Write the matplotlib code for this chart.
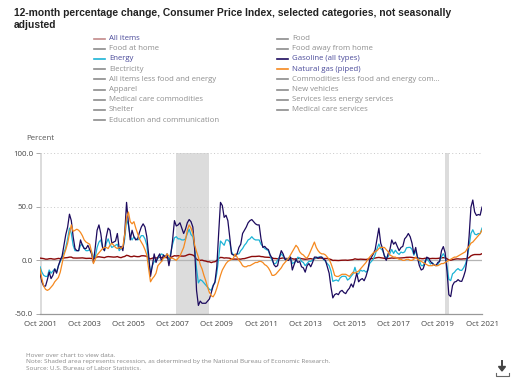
import matplotlib
matplotlib.use("Agg")
import matplotlib.pyplot as plt
from matplotlib.lines import Line2D
from matplotlib.patches import Polygon
import numpy as np

# ---------------- data (monthly, Oct 2001 .. Oct 2021) ----------------
all_items = [
    2.1, 1.9, 1.6,
    1.1, 1.1, 1.5, 1.6, 1.2, 1.1, 1.5, 1.8, 1.5, 2.0, 2.2, 2.4,
    2.6, 3.0, 3.0, 2.2, 2.1, 2.1, 2.1, 2.2, 2.3, 2.0, 1.8, 1.9,
    1.9, 1.7, 1.7, 2.3, 3.1, 3.3, 3.0, 2.7, 2.5, 3.2, 3.5, 3.3,
    3.0, 3.0, 3.1, 3.5, 2.8, 2.5, 3.2, 3.6, 4.7, 4.3, 3.5, 3.4,
    4.0, 3.6, 3.4, 3.5, 4.2, 4.3, 4.1, 3.8, 2.1, 1.3, 2.0, 2.5,
    2.1, 2.4, 2.8, 2.6, 2.7, 2.7, 2.4, 2.0, 2.8, 3.5, 4.3, 4.1,
    4.3, 4.0, 4.0, 3.9, 4.2, 5.0, 5.6, 5.4, 4.9, 3.7, 1.1, 0.1,
    0.0, 0.2, -0.4, -0.7, -1.3, -1.4, -2.1, -1.5, -1.3, -0.2, 1.8, 2.7,
    2.6, 2.1, 2.3, 2.2, 2.0, 1.1, 1.2, 1.1, 1.1, 1.2, 1.1, 1.5,
    1.6, 2.1, 2.7, 3.2, 3.6, 3.6, 3.6, 3.8, 3.9, 3.5, 3.4, 3.0,
    2.9, 2.9, 2.7, 2.3, 1.7, 1.7, 1.4, 1.7, 2.0, 2.2, 1.8, 1.7,
    1.6, 2.0, 1.5, 1.1, 1.4, 1.8, 2.0, 1.5, 1.2, 1.0, 1.2, 1.5,
    1.6, 1.1, 1.5, 2.0, 2.1, 2.1, 2.0, 1.7, 1.7, 1.7, 1.3, 0.8,
    -0.1, 0.0, -0.1, -0.2, 0.0, 0.1, 0.2, 0.2, 0.0, 0.2, 0.5, 0.7,
    1.4, 1.0, 0.9, 1.1, 1.0, 1.0, 0.8, 1.1, 1.5, 1.6, 1.7, 2.1,
    2.5, 2.7, 2.4, 2.2, 1.9, 1.6, 1.7, 1.9, 2.2, 2.0, 2.2, 2.1,
    2.1, 2.2, 2.4, 2.5, 2.8, 2.9, 2.9, 2.7, 2.3, 2.5, 2.2, 1.9,
    1.6, 1.5, 1.9, 2.0, 1.8, 1.6, 1.8, 1.7, 1.7, 1.8, 2.1, 2.3,
    2.5, 2.3, 1.5, 0.3, 0.1, 0.6, 1.0, 1.3, 1.4, 1.2, 1.2, 1.4,
    1.4, 1.7, 2.6, 4.2, 5.0, 5.4, 5.4, 5.3, 5.4, 6.2,
]

energy = [
    -6, -11, -14,
    -15, -15, -9, -12, -10, -8, -11, -5, -1, 3, 7, 12,
    20, 30, 25, 14, 9, 9, 9, 14, 15, 11, 9, 9,
    10, 8, 3, 3, 12, 17, 19, 12, 9, 16, 20, 15,
    12, 13, 14, 15, 9, 11, 11, 20, 38, 33, 22, 19,
    22, 20, 19, 20, 23, 23, 20, 14, -1, -11, -5, -1,
    0, 2, 4, 6, 5, 3, 5, 0, 7, 15, 21, 22,
    20, 20, 19, 19, 20, 25, 29, 24, 22, 12, -8, -21,
    -18, -19, -21, -23, -25, -27, -28, -23, -21, -12, 2, 18,
    16, 14, 19, 19, 17, 8, 5, 5, 6, 6, 9, 11,
    14, 16, 19, 20, 22, 20, 19, 19, 19, 15, 13, 11,
    10, 9, 4, 0, -3, -3, 0, 3, 6, 4, 1, 1,
    2, 3, -3, -2, -1, 3, 2, -1, -2, -5, -3, -1,
    -1, 0, 2, 2, 3, 3, 3, 1, -1, -3, -5, -10,
    -19.6, -18.8, -18.3, -19.4, -16.3, -15.0, -14.8, -15.0, -18.4, -17.1, -14.7, -12.6,
    -6.5, -12.5, -12.6, -8.9, -10.1, -9.4, -11.0, -9.2, -2.9, -0.9, 1.1, 5.4,
    10.8, 15.2, 10.9, 9.3, 4.5, 2.3, 3.4, 6.4, 10.1, 6.4, 9.4, 6.9,
    5.5, 7.7, 7.0, 7.9, 11.7, 12.0, 12.1, 10.2, 4.8, 8.9, 3.1, -0.3,
    -4.9, -5.0, -0.4, 1.7, -0.6, -3.4, -2.0, -4.4, -4.8, -4.2, -0.6, 3.4,
    6.2, 2.8, -5.7, -17.7, -18.9, -12.6, -11.2, -9.0, -7.7, -9.2, -9.4, -7.0,
    -3.6, 2.4, 13.2, 25.1, 28.5, 24.5, 23.8, 25.0, 24.8, 30.0,
]

gasoline = [
    -12, -20, -24,
    -24, -18, -11, -17, -14, -8, -12, -5, 0, 4, 14, 24,
    31, 43, 37, 22, 11, 9, 9, 19, 14, 11, 11, 14,
    10, 6, -2, 12, 28, 33, 25, 12, 9, 22, 30, 28,
    16, 17, 18, 25, 11, 13, 9, 25, 54, 35, 19, 28,
    22, 19, 20, 26, 31, 34, 31, 22, 5, -15, -5, 6,
    -2, 3, 6, -1, 5, 3, 6, -5, 5, 19, 37, 32,
    33, 35, 30, 25, 29, 35, 38, 36, 31, 10, -28, -42,
    -38, -40, -40, -40, -38, -36, -30, -24, -20, -6, 25, 54,
    51, 40, 42, 37, 22, 6, 5, 4, 6, 12, 15, 25,
    28, 31, 35, 37, 38, 36, 34, 33, 33, 20, 12, 13,
    11, 10, 5, 2, -4, -6, -5, 3, 9, 6, 1, 0,
    0, 3, -9, -4, 1, -2, -1, -6, -7, -11, -5, -3,
    -6, -2, 3, 3, 2, 3, 3, 1, 0, -6, -12, -25,
    -35, -32, -31, -32, -29, -28, -30, -31, -28, -26, -22, -25,
    -19, -12, -20, -18, -17, -19, -15, -9, 0, 3, 6, 10,
    20, 30, 16, 11, 4, 0, 6, 10, 19, 15, 17, 13,
    9, 12, 13, 20, 22, 25, 22, 16, 6, 12, 2, -5,
    -9, -8, -3, 3, 2, -1, -3, -4, -5, -2, -1, 9,
    12.8, 7.0, -10.2, -32.0, -33.8, -23.4, -20.3, -19.7, -18.0, -19.4, -19.6, -15.2,
    -9.5, 2.5, 22.5, 49.6, 56.2, 45.1, 41.8, 42.7, 42.1, 49.6,
]

natural_gas = [
    -8, -17, -24,
    -27, -28, -27, -25, -23, -20, -18, -16, -11, -3, 5, 10,
    16, 25, 33, 27, 28, 29, 28, 26, 23, 19, 17, 16,
    15, 8, -3, 1, 5, 7, 9, 11, 12, 12, 11, 14,
    16, 14, 12, 11, 12, 11, 13, 24, 40, 45, 36, 34,
    36, 30, 25, 20, 17, 14, 10, 5, -8, -20, -17, -15,
    -12, -5, -3, -1, 2, 3, 6, 4, 2, 2, 1, 0,
    2, 4, 8, 12, 19, 28, 33, 30, 25, 14, 8, 3,
    -4, -8, -14, -19, -25, -30, -33, -34, -31, -26, -20, -14,
    -9, -6, -3, -1, 0, 1, 2, 6, 3, 0, -2, -5,
    -6, -6, -5, -5, -4, -3, -2, -2, -1, -1, -2, -4,
    -5, -7, -10, -14, -14, -13, -11, -9, -7, -4, -2, 0,
    2, 5, 8, 11, 14, 12, 8, 6, 5, 3, 2, 5,
    9, 13, 17, 12, 9, 7, 6, 6, 5, 3, 1, -3,
    -8, -14, -15, -15, -14, -13, -13, -13, -14, -15, -13, -11,
    -12, -11, -10, -8, -6, -4, -2, 1, 3, 5, 7, 8,
    9, 11, 12, 12, 12, 10, 8, 5, 4, 3, 3, 2,
    1, 1, 0, 0, 1, 1, 0, 0, 1, 3, 1, 0,
    -1, -2, -3, -4, -5, -5, -5, -4, -5, -5, -4, -3,
    -3, -2, -1, 0, 1, 2, 3, 3, 4, 5, 6, 7,
    8, 11, 13, 16, 17, 19, 21, 23, 25, 28,
]

x_tick_labels = ["Oct 2001", "Oct 2003", "Oct 2005", "Oct 2007", "Oct 2009", "Oct 2011",
                 "Oct 2013", "Oct 2015", "Oct 2017", "Oct 2019", "Oct 2021"]
y_ticks = [-50, 0, 50, 100]
y_tick_labels = ["-50.0", "0.0", "50.0", "100.0"]
# recessions as (start, end) month offsets from Oct 2001
recessions = [(0, 1), (74, 92), (220, 222)]

legend_left = ["All items", "Food at home", "Energy", "Electricity",
               "All items less food and energy", "Apparel", "Medical care commodities",
               "Shelter", "Education and communication"]
legend_right = ["Food", "Food away from home", "Gasoline (all types)", "Natural gas (piped)",
                "Commodities less food and energy com...", "New vehicles",
                "Services less energy services", "Medical care services"]

# ---------------- styling ----------------
C_ALL = "#8b0a0a"
C_ALL_LEG = "#c48a8a"
C_ENERGY = "#1cb4d6"
C_GAS = "#1c0a5e"
C_NG = "#f5891f"
C_GRAY = "#8c8c8c"
C_SEL = "#4a4a9a"
active = {"All items": C_ALL_LEG, "Energy": C_ENERGY,
          "Gasoline (all types)": C_GAS, "Natural gas (piped)": C_NG}

W, H = 512, 380
fig = plt.figure(figsize=(W / 100, H / 100), dpi=100)
fig.patch.set_facecolor("white")
FONT = "Open Sans"

def px(x, y):
    return x / W, 1 - y / H

# axes: x from 40 to 482 px, y=100 at 153 px, y=-50 at 314 px
l, t = 40, 153
r, b = 482, 314
ax = fig.add_axes([l / W, 1 - b / H, (r - l) / W, (b - t) / H])

n = len(all_items)
xs = np.arange(n)

for s, e in recessions:
    ax.axvspan(s, e, color="#dcdcdc", lw=0, zorder=0)

for yv in (50, 100):
    ax.axhline(yv, color="#c8c8c8", lw=0.7, ls=(0, (1, 2.5)), zorder=1)
ax.axhline(0, color="#b4b4b4", lw=0.9, zorder=1)

ax.plot(xs, all_items, color=C_ALL, lw=1.0, zorder=3)
ax.plot(xs, energy, color=C_ENERGY, lw=0.9, zorder=4)
ax.plot(xs, gasoline, color=C_GAS, lw=0.9, zorder=5)
ax.plot(xs, natural_gas, color=C_NG, lw=0.9, zorder=6)

ax.set_xlim(0, n - 1)
ax.set_ylim(-50, 100)
ax.set_xticks(np.arange(0, n, 24))
ax.set_xticklabels(x_tick_labels, fontsize=5.7, color="#444444", family=FONT)
ax.set_yticks(y_ticks)
ax.set_yticklabels(y_tick_labels, fontsize=5.7, color="#444444", family=FONT)
ax.tick_params(axis="x", length=0, pad=5)
ax.tick_params(axis="y", length=3, width=0.7, color="#aaaaaa", pad=2)
for side in ("top", "right", "left"):
    ax.spines[side].set_visible(False)
ax.spines["bottom"].set_color("#999999")
ax.spines["bottom"].set_linewidth(0.9)
ax.set_facecolor("none")

# title
fig.text(*px(14, 13), "12-month percentage change, Consumer Price Index, selected categories, not seasonally",
         fontsize=7.35, fontweight="bold", color="#222222", family="Liberation Sans", va="center", ha="left")
fig.text(*px(14, 24.5), "adjusted",
         fontsize=7.35, fontweight="bold", color="#222222", family="Liberation Sans", va="center", ha="left")

# legend
row_y = [38.5, 48.7, 58.9, 69.1, 79.3, 89.5, 99.7, 109.9, 120.1]

def leg_item(x_line, x_text, y, name):
    col = active.get(name, C_GRAY)
    fig.add_artist(Line2D([x_line / W, (x_line + 10.5) / W], [1 - y / H, 1 - y / H],
                          color=col, lw=1.2, transform=fig.transFigure))
    tc = C_SEL if name in active else "#8f8f8f"
    fig.text((x_text) / W, 1 - y / H, name, fontsize=5.6, color=tc, family=FONT,
             va="center", ha="left")

for i, nm in enumerate(legend_left):
    leg_item(94, 109, row_y[i], nm)
for i, nm in enumerate(legend_right):
    leg_item(277, 292, row_y[i], nm)

# axis unit label
fig.text(*px(26, 139), "Percent", fontsize=5.7, color="#555555", family=FONT, va="center", ha="left")

# footer
foot = ["Hover over chart to view data.",
        "Note: Shaded area represents recession, as determined by the National Bureau of Economic Research.",
        "Source: U.S. Bureau of Labor Statistics."]
for i, s in enumerate(foot):
    fig.text(*px(26, 355.7 + 6.3 * i), s, fontsize=4.6, color="#888888", family=FONT,
             va="center", ha="left")

# download icon
fig.add_artist(Line2D([502 / W, 502 / W], [1 - 361 / H, 1 - 368 / H], color="#444444", lw=1.4,
                      transform=fig.transFigure))
fig.add_artist(Polygon([[498.5 / W, 1 - 366.5 / H], [505.5 / W, 1 - 366.5 / H], [502 / W, 1 - 371 / H]],
                       closed=True, color="#444444", transform=fig.transFigure))
fig.add_artist(Line2D([495.5 / W, 495.5 / W, 508.5 / W, 508.5 / W],
                      [1 - 373 / H, 1 - 375.5 / H, 1 - 375.5 / H, 1 - 373 / H],
                      color="#666666", lw=0.8, transform=fig.transFigure))

fig.savefig("out.png", dpi=100, facecolor="white")
